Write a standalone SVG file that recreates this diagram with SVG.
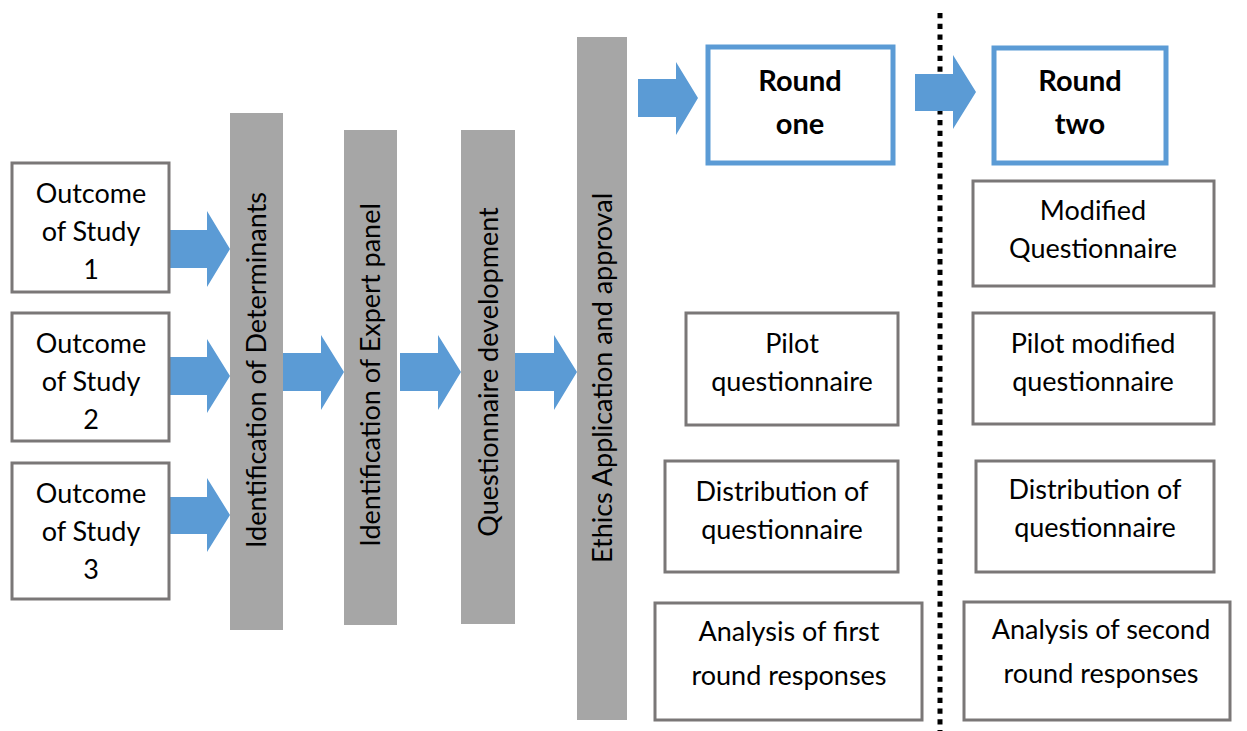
<svg xmlns="http://www.w3.org/2000/svg" width="1247" height="731" viewBox="0 0 1247 731">
  <style>
    .box { fill: #ffffff; stroke: #7a7777; stroke-width: 3; }
    .round { fill: #ffffff; stroke: #5b9bd5; stroke-width: 5; }
    .bar { fill: #a6a6a6; }
    .arrow { fill: #5b9bd5; }
    .t { font-family: Lato, "Liberation Sans", sans-serif; font-size: 27px; fill: #000000; text-anchor: middle; }
    .b { font-weight: bold; font-size: 29px; }
    .divider { stroke: #000000; stroke-width: 5; stroke-dasharray: 5.3 5.4; fill: none; }
  </style>

  <!-- dotted divider between the two rounds -->
  <line class="divider" x1="940" y1="13" x2="940" y2="731"/>

  <!-- block arrows -->
  <g id="connectors">
    <polygon class="arrow" points="170,230 207,230 207,211 230,249 207,287 207,268 170,268"/>
    <polygon class="arrow" points="170,357 207,357 207,339 230,376 207,413 207,395 170,395"/>
    <polygon class="arrow" points="170,497 207,497 207,478 230,515 207,552 207,534 170,534"/>
    <polygon class="arrow" points="283,353 321,353 321,335 344,372 321,410 321,391 283,391"/>
    <polygon class="arrow" points="400,353 438,353 438,335 461,372 438,410 438,391 400,391"/>
    <polygon class="arrow" points="515,353 554,353 554,335 577,372 554,410 554,391 515,391"/>
    <polygon class="arrow" points="638,79 676,79 676,62 698,98 676,135 676,117 638,117"/>
    <polygon class="arrow" points="915,74 953,74 953,55 976,92 953,129 953,111 915,111"/>
  </g>

  <!-- study outcomes -->
  <g id="study1">
    <rect class="box" x="12" y="163" width="157" height="129"/>
    <text class="t" x="91" y="203">Outcome</text>
    <text class="t" x="91" y="241">of Study</text>
    <text class="t" x="91" y="279">1</text>
  </g>
  <g id="study2">
    <rect class="box" x="12" y="313" width="157" height="128"/>
    <text class="t" x="91" y="353">Outcome</text>
    <text class="t" x="91" y="391">of Study</text>
    <text class="t" x="91" y="429">2</text>
  </g>
  <g id="study3">
    <rect class="box" x="12" y="463" width="157" height="136"/>
    <text class="t" x="91" y="503">Outcome</text>
    <text class="t" x="91" y="541">of Study</text>
    <text class="t" x="91" y="579">3</text>
  </g>

  <!-- vertical process stages -->
  <g id="determinants">
    <rect class="bar" x="230" y="113" width="53" height="517"/>
    <text class="t" transform="translate(266,370) rotate(-90)">Identification of Determinants</text>
  </g>
  <g id="expert-panel">
    <rect class="bar" x="344" y="130" width="53" height="495"/>
    <text class="t" transform="translate(380,375) rotate(-90)">Identification of Expert panel</text>
  </g>
  <g id="questionnaire-dev">
    <rect class="bar" x="461" y="130" width="54" height="494"/>
    <text class="t" transform="translate(498,372) rotate(-90)">Questionnaire development</text>
  </g>
  <g id="ethics">
    <rect class="bar" x="577" y="37" width="50" height="683"/>
    <text class="t" transform="translate(612,378) rotate(-90)">Ethics Application and approval</text>
  </g>

  <!-- round one -->
  <g id="round-one">
    <rect class="round" x="708" y="47" width="185" height="116"/>
    <text class="t b" x="800" y="91">Round</text>
    <text class="t b" x="800" y="134">one</text>
  </g>
  <g id="pilot">
    <rect class="box" x="686" y="313" width="212" height="112"/>
    <text class="t" x="792" y="353">Pilot</text>
    <text class="t" x="792" y="391">questionnaire</text>
  </g>
  <g id="distribution-one">
    <rect class="box" x="665" y="461" width="233" height="111"/>
    <text class="t" x="782" y="501">Distribution of</text>
    <text class="t" x="782" y="539">questionnaire</text>
  </g>
  <g id="analysis-one">
    <rect class="box" x="655" y="603" width="267" height="117"/>
    <text class="t" x="789" y="641">Analysis of first</text>
    <text class="t" x="789" y="685">round responses</text>
  </g>

  <!-- round two -->
  <g id="round-two">
    <rect class="round" x="994" y="48" width="172" height="115"/>
    <text class="t b" x="1080" y="91">Round</text>
    <text class="t b" x="1080" y="134">two</text>
  </g>
  <g id="modified">
    <rect class="box" x="973" y="181" width="241" height="105"/>
    <text class="t" x="1093" y="220">Modified</text>
    <text class="t" x="1093" y="258">Questionnaire</text>
  </g>
  <g id="pilot-modified">
    <rect class="box" x="973" y="313" width="241" height="111"/>
    <text class="t" x="1093" y="353">Pilot modified</text>
    <text class="t" x="1093" y="391">questionnaire</text>
  </g>
  <g id="distribution-two">
    <rect class="box" x="976" y="461" width="238" height="111"/>
    <text class="t" x="1095" y="499">Distribution of</text>
    <text class="t" x="1095" y="537">questionnaire</text>
  </g>
  <g id="analysis-two">
    <rect class="box" x="964" y="602" width="266" height="118"/>
    <text class="t" x="1101" y="639">Analysis of second</text>
    <text class="t" x="1101" y="683">round responses</text>
  </g>
</svg>
